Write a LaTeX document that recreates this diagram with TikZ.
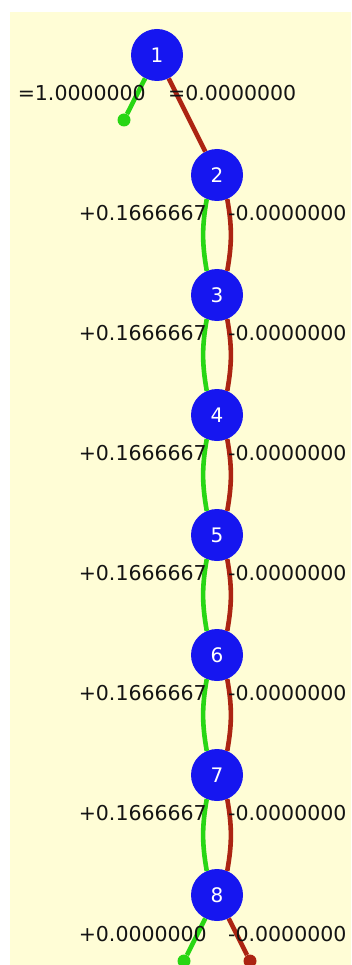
\documentclass[tikz,border=0pt]{standalone}
\usepackage{fontspec}
\setmainfont{DejaVu Sans}
\usetikzlibrary{positioning}

\definecolor{paper}{RGB}{255,253,214}
\definecolor{nodeblue}{RGB}{22,22,240}
\definecolor{edgegreen}{RGB}{40,214,20}
\definecolor{edgered}{RGB}{172,36,18}
\definecolor{valtext}{RGB}{20,20,20}

\begin{document}
\begin{tikzpicture}[x=1pt, y=1pt,
	vertex/.style={circle, fill=nodeblue, inner sep=0pt, minimum size=52pt, text=white, font=\fontsize{20}{24}\selectfont},
	val/.style={inner sep=0pt, text=valtext, font=\fontsize{20.5}{24}\selectfont},
	greenline/.style={line width=4.6pt, draw=edgegreen},
	redline/.style={line width=4.6pt, draw=edgered},
	greenarc/.style={greenline, out=260, in=100},
	redarc/.style={redline, out=280, in=80},
	enddot/.style={circle, inner sep=0pt, minimum size=13pt}]
				\useasboundingbox (0,0) rectangle (351,-965);
				\fill[paper] (10,-12) rectangle (351,-965);
				% vertices
				\node[vertex] (n1) at (157,-55) {1};
				\node[vertex] (n2) at (217,-175) {2};
				\node[vertex] (n3) at (217,-295) {3};
				\node[vertex] (n4) at (217,-415) {4};
				\node[vertex] (n5) at (217,-535) {5};
				\node[vertex] (n6) at (217,-655) {6};
				\node[vertex] (n7) at (217,-775) {7};
				\node[vertex] (n8) at (217,-895) {8};
				\node[enddot, fill=edgegreen] (g1) at (124,-120) {};
				\node[enddot, fill=edgegreen] (g8) at (184,-961) {};
				\node[enddot, fill=edgered] (r8) at (250,-961) {};
				% edges
				\draw[greenline] (n1) -- (g1);
				\draw[redline] (n1) -- (n2);
				\draw[greenarc] (n2.247) to (n3.113);
				\draw[redarc] (n2.293) to (n3.67);
				\draw[greenarc] (n3.247) to (n4.113);
				\draw[redarc] (n3.293) to (n4.67);
				\draw[greenarc] (n4.247) to (n5.113);
				\draw[redarc] (n4.293) to (n5.67);
				\draw[greenarc] (n5.247) to (n6.113);
				\draw[redarc] (n5.293) to (n6.67);
				\draw[greenarc] (n6.247) to (n7.113);
				\draw[redarc] (n6.293) to (n7.67);
				\draw[greenarc] (n7.247) to (n8.113);
				\draw[redarc] (n7.293) to (n8.67);
				\draw[greenline] (n8) -- (g8);
				\draw[redline] (n8) -- (r8);
				% values
				\node[val, anchor=east] (a1) at (146,-93) {=1.0000000};
				\node[val, anchor=west] (b1) at (168,-93) {=0.0000000};
				\node[val, anchor=east] (a2) at (207,-213) {+0.1666667};
				\node[val, anchor=west] (b2) at (228,-213) {-0.0000000};
				\node[val, anchor=east] (a3) at (207,-333) {+0.1666667};
				\node[val, anchor=west] (b3) at (228,-333) {-0.0000000};
				\node[val, anchor=east] (a4) at (207,-453) {+0.1666667};
				\node[val, anchor=west] (b4) at (228,-453) {-0.0000000};
				\node[val, anchor=east] (a5) at (207,-573) {+0.1666667};
				\node[val, anchor=west] (b5) at (228,-573) {-0.0000000};
				\node[val, anchor=east] (a6) at (207,-693) {+0.1666667};
				\node[val, anchor=west] (b6) at (228,-693) {-0.0000000};
				\node[val, anchor=east] (a7) at (207,-813) {+0.1666667};
				\node[val, anchor=west] (b7) at (228,-813) {-0.0000000};
				\node[val, anchor=east] (a8) at (207,-934) {+0.0000000};
				\node[val, anchor=west] (b8) at (228,-934) {-0.0000000};
			\end{tikzpicture}
\end{document}
